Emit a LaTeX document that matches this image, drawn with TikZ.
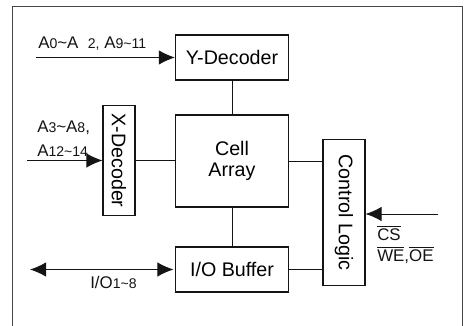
\documentclass[tikz,border=0pt]{standalone}
\usepackage{fontspec}
\setmainfont{Liberation Sans}
\usetikzlibrary{arrows.meta}
\definecolor{ink}{RGB}{20,20,20}
\definecolor{rim}{RGB}{70,70,70}
\tikzset{
  blk/.style={draw=ink,line width=0.75pt,inner sep=1pt,align=center,font=\fontsize{14}{14.5}\selectfont},
  arr/.style={-{Latex[length=4mm,width=3.6mm]},line width=0.7pt,ink},
  darr/.style={{Latex[length=4mm,width=3.6mm]}-{Latex[length=4mm,width=3.6mm]},line width=0.7pt,ink},
  wire/.style={draw=ink,line width=0.6pt},
  lbl/.style={font=\fontsize{12}{13}\selectfont,inner sep=0pt,anchor=west,text=ink},
}
\newcommand{\sm}[1]{{\fontsize{10}{11}\selectfont #1}}
\newcommand{\ovl}[1]{$\overline{\mbox{#1}}$}

\begin{document}
\begin{tikzpicture}[x=0.025cm,y=-0.025cm]
 \useasboundingbox (0,0) rectangle (468,326);
 \draw[rim,line width=0.5pt] (12,326) -- (12,6) -- (462,6) -- (462,326);
 % blocks
 \node[blk,minimum width=2.83cm,minimum height=1.125cm] (ydec) at (232,57.5) {Y-Decoder};
 \node[blk,minimum width=2.83cm,minimum height=2.3cm] (cell) at (232,161) {Cell\\Array};
 \node[blk,minimum width=0.8cm,minimum height=2.73cm] (xdec) at (119,160.5) {\rotatebox{-90}{X-Decoder}};
 \node[blk,minimum width=2.83cm,minimum height=1.125cm] (io) at (232,269.5) {I/O Buffer};
 \node[blk,minimum width=1.05cm,minimum height=3.63cm] (ctrl) at (344,212.5) {\rotatebox{-90}{Control Logic}};
 \draw[wire] (ydec) -- (cell);
 \draw[wire] (cell) -- (io);
 \draw[wire] (xdec.east) -- (xdec.east -| cell.west);
 \draw[wire] (cell.east) -- (cell.east -| ctrl.west);
 \draw[wire] (io.east) -- (io.east -| ctrl.west);
 % signals
 \coordinate (yin) at (36,57.5);
 \coordinate (xin) at (27,160.5);
 \coordinate (iox) at (30,269.5);
 \coordinate (csin) at (438,214);
 \draw[arr] (yin) -- (ydec.west);
 \draw[arr] (xin) -- (xdec.west);
 \draw[darr,shorten >=1pt] (iox) -- (io.west);
 \draw[arr] (csin) -- (csin -| ctrl.east);
 \node[lbl] (ylab) at (38,44) {A\sm{0}\textasciitilde A\ \ \sm{2,} A\sm{9\textasciitilde 11}};
 \node[lbl] (xlab1) at (37,128) {A\sm{3}\textasciitilde A\sm{8},};
 \node[lbl] (xlab2) at (37,151) {A\sm{12\textasciitilde 14}};
 \node[lbl] (iolab) at (90,282) {I/O\sm{1\textasciitilde 8}};
 \node[lbl] (cslab) at (377,233) {\ovl{CS}};
 \node[lbl] (welab) at (377,255) {\ovl{WE},\ovl{OE}};
\end{tikzpicture}
\end{document}
